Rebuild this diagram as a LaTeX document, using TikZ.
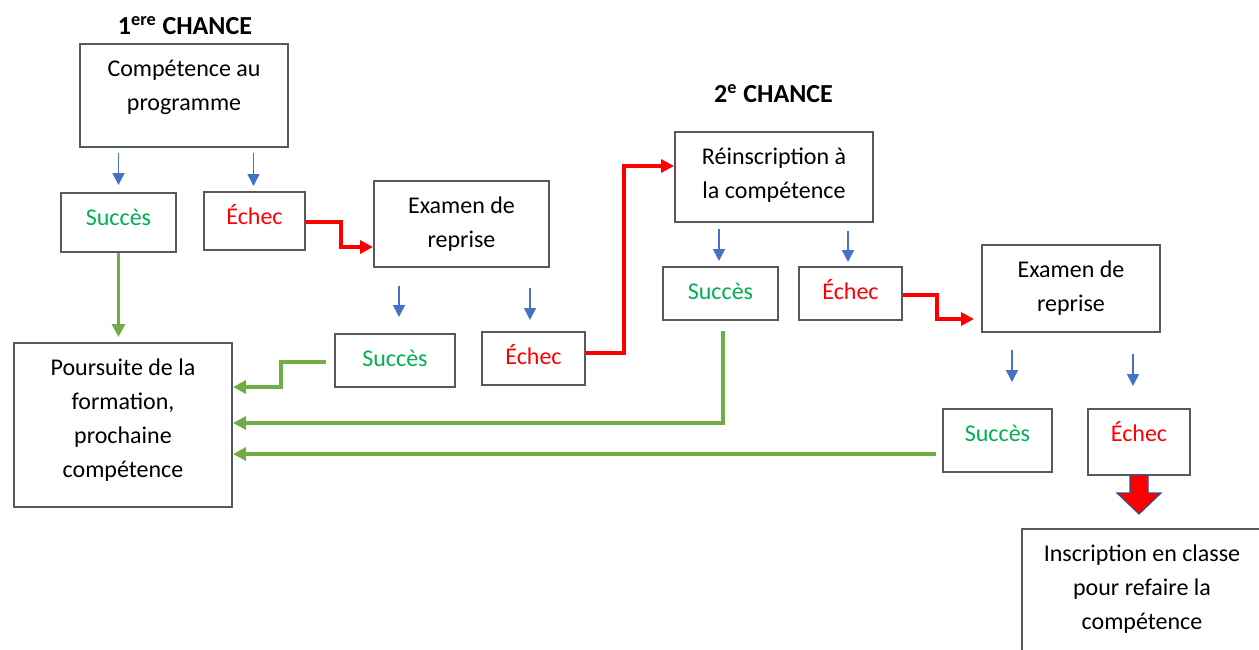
\documentclass[tikz,border=0pt]{standalone}
\usepackage{fontspec}
\setmainfont{Carlito}
\usetikzlibrary{arrows.meta,calc}
\definecolor{boxgray}{RGB}{89,89,89}
\definecolor{txtgreen}{RGB}{0,176,80}
\definecolor{txtred}{RGB}{255,0,0}
\definecolor{arrblue}{RGB}{68,114,196}
\definecolor{arrgreen}{RGB}{112,173,71}
\definecolor{arrred}{RGB}{255,0,0}
\definecolor{bigborder}{RGB}{47,82,143}
\newcommand\topstrutx{\rule{0pt}{11pt}}
\begin{document}
\begin{tikzpicture}[x=0.5pt,y=-0.5pt,
  box/.style={draw=boxgray, line width=1pt, rectangle, inner sep=0pt},
  txt/.style={anchor=north, align=center, inner sep=0pt, font=\fontsize{12}{17}\selectfont, text=black},
  ttl/.style={anchor=base, inner sep=0pt, font=\fontsize{13}{17}\selectfont\bfseries, text=black},
  bluearr/.style={draw=arrblue, line width=0.8pt, -{Triangle[length=6pt,width=6pt]}},
  redarr/.style={draw=arrred, line width=2pt, -{Triangle[length=6.5pt,width=6.5pt]}},
  greenarr/.style={draw=arrgreen, line width=1.6pt, -{Triangle[length=6.5pt,width=6.5pt]}},
  bigarr/.style={fill=arrred, draw=bigborder, line width=0.6pt, line join=miter}]
\useasboundingbox (0,0) rectangle (1259,649);
\clip (0,0) rectangle (1259,649);

% titles
\node[ttl] (t1) at (185,34) {1\textsuperscript{ere} CHANCE};
\node[ttl] (t2) at (773.5,102) {2\textsuperscript{e} CHANCE};

% boxes
\node[box, minimum width=104pt, minimum height=51.5pt] (b1) at (184,95.5) {};
\node[box, minimum width=57.5pt, minimum height=29.5pt] (s1) at (118.5,222.5) {};
\node[box, minimum width=50.5pt, minimum height=29pt] (e1) at (254.5,221) {};
\node[box, minimum width=87.5pt, minimum height=43pt] (x1) at (461.5,224) {};
\node[box, minimum width=60pt, minimum height=26.5pt] (s2) at (395,360.5) {};
\node[box, minimum width=51.5pt, minimum height=26.5pt] (e2) at (533.5,358.5) {};
\node[box, minimum width=99pt, minimum height=45pt] (r) at (774,177) {};
\node[box, minimum width=57.5pt, minimum height=26.5pt] (s3) at (720.5,293.5) {};
\node[box, minimum width=51.5pt, minimum height=26.5pt] (e3) at (850.5,293.5) {};
\node[box, minimum width=89pt, minimum height=43.5pt] (x2) at (1071,288.5) {};
\node[box, minimum width=54.5pt, minimum height=31.5pt] (s4) at (997.5,440.5) {};
\node[box, minimum width=51pt, minimum height=33pt] (e4) at (1139,442) {};
\node[box, minimum width=109pt, minimum height=82pt] (p) at (123,425) {};
\node[box, minimum width=120pt, minimum height=95.5pt] (i) at (1142,624.5) {};

% texts
\node[txt] (b1t) at ($(b1.north)+(0,11)$) {\topstrutx Compétence au\\programme};
\node[txt, text=txtgreen] (s1t) at ($(s1.north)+(0,11)$) {\topstrutx Succès};
\node[txt, text=txtred] (e1t) at ($(e1.north)+(0,11)$) {\topstrutx Échec};
\node[txt] (x1t) at ($(x1.north)+(0,11)$) {\topstrutx Examen de\\reprise};
\node[txt, text=txtgreen] (s2t) at ($(s2.north)+(0,11)$) {\topstrutx Succès};
\node[txt, text=txtred] (e2t) at ($(e2.north)+(0,11)$) {\topstrutx Échec};
\node[txt] (rt) at ($(r.north)+(0,11)$) {\topstrutx Réinscription à\\la compétence};
\node[txt, text=txtgreen] (s3t) at ($(s3.north)+(0,11)$) {\topstrutx Succès};
\node[txt, text=txtred] (e3t) at ($(e3.north)+(0,11)$) {\topstrutx Échec};
\node[txt] (x2t) at ($(x2.north)+(0,11)$) {\topstrutx Examen de\\reprise};
\node[txt, text=txtgreen] (s4t) at ($(s4.north)+(0,11)$) {\topstrutx Succès};
\node[txt, text=txtred] (e4t) at ($(e4.north)+(0,11)$) {\topstrutx Échec};
\node[txt] (pt) at ($(p.north)+(0,11)$) {\topstrutx Poursuite de la\\formation,\\prochaine\\compétence};
\node[txt] (it) at ($(i.north)+(0,11)$) {\topstrutx Inscription en classe\\pour refaire la\\compétence};

% blue arrows
\draw[bluearr] ($(b1.south -| s1.north)+(0,5)$) -- ($(s1.north)+(0,-7)$);
\draw[bluearr] ($(b1.south -| e1.north)+(-1,5)$) -- ($(e1.north)+(-1,-5)$);
\draw[bluearr] ($(x1.south -| s2.north)+(4,18)$) -- ($(s2.north)+(4,-16)$);
\draw[bluearr] ($(x1.south -| e2.north)+(-3.5,20)$) -- ($(e2.north)+(-3.5,-11)$);
\draw[bluearr] ($(r.south -| s3.north)+(-1.5,6)$) -- ($(s3.north)+(-1.5,-5)$);
\draw[bluearr] ($(r.south -| e3.north)+(-2.5,8)$) -- ($(e3.north)+(-2.5,-4)$);
\draw[bluearr] ($(x2.south -| s4.north)+(14.5,17)$) -- ($(s4.north)+(14.5,-26)$);
\draw[bluearr] ($(x2.south -| e4.north)+(-6,21)$) -- ($(e4.north)+(-6,-22)$);

% red connectors
\draw[redarr] ($(e1.east)+(0,1)$) -- ++(35,0) |- ($(x1.west)+(0,23)$);
\draw[redarr] ($(e2.east)+(0,-5.5)$) -- ++(38,0) |- ($(r.west)+(0,-11)$);
\draw[redarr, shorten >=3.5pt] ($(e3.east)+(0,1.5)$) -- ++(34,0) |- ($(x2.west)+(0,30.5)$);

% green connectors
\draw[greenarr, shorten >=2.5pt] (s1.south) -- (s1.south |- p.north);
\draw[greenarr] ($(s2.west)+(-8,1.5)$) -- ++(-45,0) |- ($(p.east)+(0,-38)$);
\draw[greenarr] ($(s3.south)+(2.5,10)$) |- ($(p.east)+(0,-2)$);
\draw[greenarr] ($(s4.west)+(-6,13.5)$) -- ($(p.east)+(0,29)$);

% big block arrow
\coordinate (ba) at ($(e4.south)+(0,-1)$);
\filldraw[bigarr] ($(ba)+(-9,0)$) -- ++(18,0) -- ++(0,18) -- ++(13,0) -- ++(-22,21) -- ++(-22,-21) -- ++(13,0) -- cycle;
\end{tikzpicture}
\end{document}
